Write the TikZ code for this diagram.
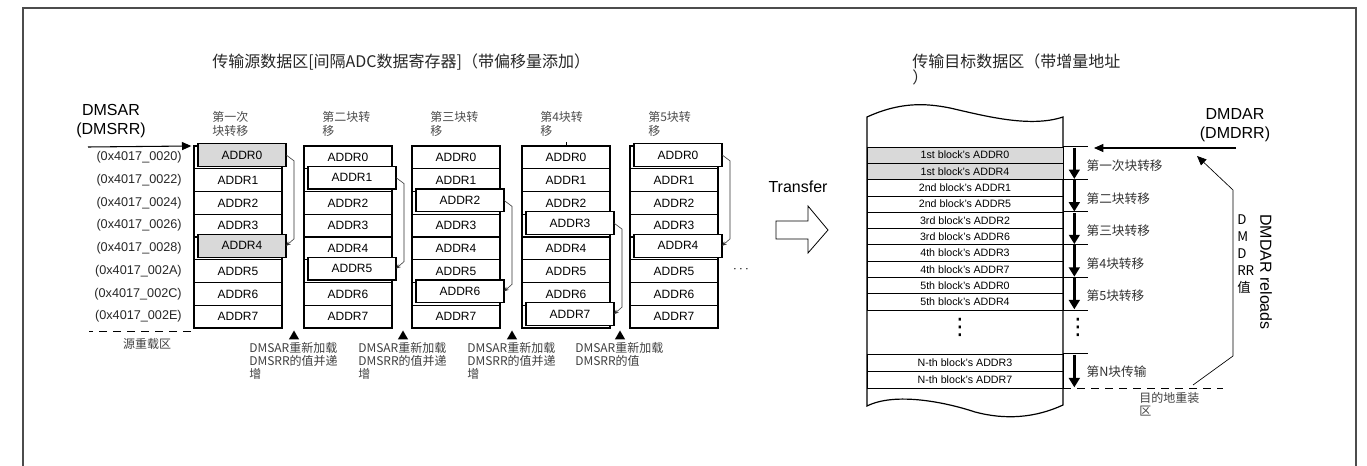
\documentclass[tikz,border=0pt]{standalone}
\usepackage{fontspec}
\setmainfont{Liberation Sans}
\newfontfamily\cjk{Noto Sans CJK SC}
\newfontfamily\sym{DejaVu Sans}
\usetikzlibrary{arrows.meta,shapes.geometric,calc}
\tikzset{
  frame/.style  ={draw=black!70,line width=0.9pt},
  ttl/.style    ={anchor=west,inner sep=0pt,align=left,font=\cjk\fontsize{12}{11.5}\selectfont,text=black!85},
  reg/.style    ={inner sep=0pt,align=center,font=\fontsize{12}{14}\selectfont},
  addr/.style   ={anchor=east,inner sep=0pt,font=\fontsize{9.5}{10}\selectfont,text=black!85},
  cell/.style   ={draw,line width=0.9pt,anchor=north west,minimum width=66pt,minimum height=17.06pt,
                  inner sep=0pt,outer sep=0pt,font=\fontsize{9}{10}\selectfont},
  colhd/.style  ={anchor=north west,inner sep=0pt,align=left,font=\cjk\fontsize{9}{10.5}\selectfont,text=black!70},
  note/.style   ={anchor=north west,inner sep=0pt,align=left,font=\cjk\fontsize{9}{9.75}\selectfont,text=black!75},
  tri/.style    ={regular polygon,regular polygon sides=3,fill,inner sep=0pt,minimum size=9pt},
  link/.style   ={-{Stealth[length=3.5pt,width=3pt]},line width=0.45pt,black!80},
  flow/.style   ={-{Triangle[length=7pt,width=6pt]},line width=0.8pt},
  drow/.style   ={draw,line width=0.5pt,minimum width=147pt,minimum height=12.2pt,inner sep=0pt,
                  font=\fontsize{8}{9}\selectfont},
  vdot/.style   ={inner sep=0pt,font=\sym\fontsize{17}{17}\selectfont},
  tick/.style   ={line width=0.7pt},
  bigdown/.style={-{Triangle[length=7pt,width=8pt]},line width=2.2pt},
  grp/.style    ={anchor=west,inner sep=0pt,font=\cjk\fontsize{9.5}{10}\selectfont,text=black!80},
}
\begin{document}
\begin{tikzpicture}[x=0.75pt,y=-0.75pt]
  \useasboundingbox (0,0) rectangle (1367,466);
  \draw[frame] (23,466) -- (23,8) -- (1356,8) -- (1356,466);

  % titles
  \node[ttl] (srctitle) at (212,62) {传输源数据区[间隔ADC数据寄存器]（带偏移量添加）};
  \node[ttl] (dsttitle) at (912,69.5) {传输目标数据区（带增量地址\\）};

  % source registers
  \node[reg] (dmsar) at (111,121) {DMSAR\\(DMSRR)};
  \foreach \r/\a in {0/0020,1/0022,2/0024,3/0026,4/0028,5/002A,6/002C,7/002E}
    \node[addr] (ad\r) at (182,157.4+22.75*\r) {(0x4017\_\a)};

  % one column per block, the two picked entries lifted out
  \foreach \c/\x/\a/\b/\f/\t in {1/194/0/4/black!15/{第一次\\块转移},2/304/1/5/white/{第二块转\\移},
                                 3/412/2/6/white/{第三块转\\移},4/522/3/7/white/{第4块转\\移},
                                 5/630/0/4/white/{第5块转\\移}}{
    \node[colhd] (h\c) at (\x+18,111) {\t};
    \foreach \r in {0,...,7}{
      \pgfmathtruncatemacro\picked{(\r==\a)||(\r==\b)}
      \ifnum\picked=1
        \node[cell] (s\c-\r) at (\x,146+22.75*\r) {};
      \else
        \node[cell] (s\c-\r) at (\x,146+22.75*\r) {ADDR\r};
      \fi
    }
    \node[cell,fill=\f] (hiA\c) at ($(s\c-\a.north west)+(4,-2.5)$) {ADDR\a};
    \node[cell,fill=\f] (hiB\c) at ($(s\c-\b.north west)+(4,-2.5)$) {ADDR\b};
    \draw[link] (hiA\c.east) -- ++(8,6) -- ($(hiB\c.east)+(8,-7)$) -- (hiB\c.east);
  }
  \draw (s4-0.north) -- ++(0,-4);
  \coordinate (ssrc) at (88,147);
  \draw[flow] (ssrc) -- ([xshift=-2pt]s1-0.north west);
  \node (more) at (741,270) {$\cdots$};

  \draw[dashed,dash pattern=on 6pt off 4.5pt] ($(s1-7.south west)+(-3,3)$) -- ++(-102,0);
  \node[note,anchor=center] (srcrl) at (147,344) {源重载区};

  \foreach \i/\x/\t in {1/294/{DMSAR重新加载\\DMSRR的值并递\\增},2/403/{DMSAR重新加载\\DMSRR的值并递\\增},
                        3/512/{DMSAR重新加载\\DMSRR的值并递\\增},4/620/{DMSAR重新加载\\DMSRR的值}}{
    \node[tri] (t\i) at (\x,336.5) {};
    \node[note] (rl\i) at (\x-45,342) {\t};
  }

  % transfer arrow
  \node[reg] (xfer) at (798,187) {Transfer};
  \draw[line width=0.6pt] (776,221) -- (808,221) -- (808,206) -- (828,230) -- (808,253)
        -- (808,239) -- (776,239) -- cycle;

  % destination area
  \draw[line width=0.9pt] (867,406) -- (867,117) .. controls (900,102) and (925,103) .. (950,108)
        .. controls (985,116) and (1030,128) .. (1063,117) -- (1063,405)
        .. controls (1035,418) and (1005,420) .. (975,412)
        .. controls (945,402) and (895,392) .. (867,406) -- cycle;
  \node[drow,fill=black!15] (d1) at (965,155.15) {1st block’s ADDR0};
  \node[drow,fill=black!15] (d2) at (965,171.45) {1st block’s ADDR4};
  \foreach \i/\t in {3/2nd block’s ADDR1,4/2nd block’s ADDR5,5/3rd block’s ADDR2,6/3rd block’s ADDR6,
                     7/4th block’s ADDR3,8/4th block’s ADDR7,9/5th block’s ADDR0,10/5th block’s ADDR4}
    \node[drow] (d\i) at (965,147+16.3*\i-8.15) {\t};
  \node[drow,minimum height=12.75pt] (nth1) at (965,362.5) {N-th block’s ADDR3};
  \node[drow,minimum height=12.75pt] (nth2) at (965,379.5) {N-th block’s ADDR7};
  \node[vdot] (vd1) at (960,327) {⋮};
  \node[vdot] (vd2) at (1078,327) {⋮};

  \foreach \i/\j/\t in {1/2/第一次块转移,3/4/第二块转移,5/6/第三块转移,7/8/第4块转移,9/10/第5块转移}{
    \draw[tick] (d\i.north east) -- ++(25,0);
    \draw[bigdown] ($(d\i.north east)+(11,1)$) -- ($(d\j.south east)+(11,-1)$);
    \node[grp] (g\i) at ($(d\i.south east)+(23,2)$) {\t};
  }
  \draw[tick] (d10.south east) -- ++(25,0);
  \draw[tick] (nth1.north east) -- ++(25,0);
  \draw[bigdown] ($(nth1.north east)+(11,1)$) -- ($(nth2.south east)+(11,-1)$);
  \node[grp] (gN) at ($(nth1.south east)+(23,0)$) {第N块传输};
  \draw[dashed,dash pattern=on 6pt off 4.5pt] (nth2.south east) -- ++(160,0);
  \node[note] (dstrl) at (1139,392) {目的地重装\\区};

  % destination registers
  \node[reg] (dmdar) at (1235,125) {DMDAR\\(DMDRR)};
  \coordinate (dsrc) at (1236,148);
  \coordinate (dtip) at (1094,148);
  \draw[flow] (dsrc) -- (dtip);
  \coordinate (rp0) at (1193,385);
  \coordinate (rp1) at (1233,356);
  \coordinate (rp2) at (1233,190);
  \coordinate (rp3) at (1197,156);
  \draw[flow,line width=0.5pt] (rp0) -- (rp1) -- (rp2) -- (rp3);
  \node[anchor=north west,inner sep=0pt,align=left,font=\cjk\fontsize{10}{12.75}\selectfont] (dmdrrv)
        at (1237,214) {D\\M\\D\\RR\\值};
  \node[reg,rotate=-90] (reloads) at (1266,272) {DMDAR reloads};
\end{tikzpicture}
\end{document}
